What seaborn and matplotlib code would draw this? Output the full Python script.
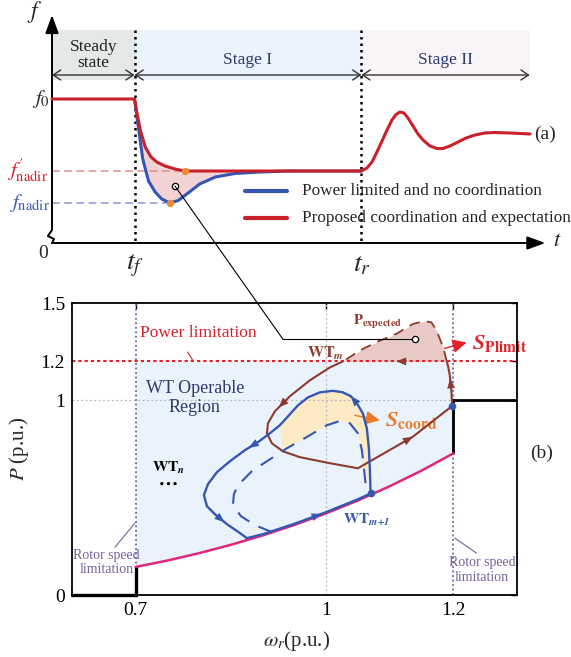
import numpy as np
import matplotlib
matplotlib.use("Agg")
import matplotlib.pyplot as plt
from matplotlib.patches import ConnectionPatch
import seaborn as sns

# ---------------- (a) frequency response after a disturbance ----------------
t_f, t_r, t_end = 1.0, 3.75, 5.79
f0 = 50.0
t_nadir_base, f_nadir_base = 1.43, 48.96
t_nadir_prop, f_nadir_prop = 1.61, 49.28

t_prop = [0.0, 1.0, 1.03, 1.07, 1.13, 1.20, 1.27, 1.37, 1.49, 1.61, 1.79, 2.50, 3.75,
          3.818, 3.879, 3.939, 4.0, 4.061, 4.121, 4.170, 4.218, 4.267, 4.315, 4.376, 4.436,
          4.497, 4.582, 4.667, 4.739, 4.824, 4.921, 5.018, 5.127, 5.248, 5.370, 5.552, 5.794]
f_prop = [50.0, 50.0, 49.86, 49.69, 49.52, 49.42, 49.37, 49.33, 49.30, 49.28, 49.28, 49.28, 49.28,
          49.31, 49.37, 49.47, 49.58, 49.69, 49.79, 49.845, 49.87, 49.86, 49.81, 49.73, 49.65,
          49.59, 49.53, 49.505, 49.505, 49.53, 49.57, 49.61, 49.64, 49.66, 49.665, 49.66, 49.65]

t_base = [1.0, 1.04, 1.10, 1.17, 1.25, 1.33, 1.43, 1.53, 1.65, 1.79, 1.98, 2.22, 2.52, 2.88, 3.75]
f_base = [50.0, 49.76, 49.40, 49.18, 49.07, 49.00, 48.96, 48.985, 49.06, 49.15, 49.22, 49.255,
          49.27, 49.28, 49.28]

stage_names = ["Steady\nstate", "Stage I", "Stage II"]
stage_edges = [0.0, t_f, t_r, t_end]
legend_labels = ["Power limited and no coordination", "Proposed coordination and expectation"]

# ---------------- (b) WT operating trajectories in the P-omega plane ----------------
mppt_w = [0.70, 0.75, 0.80, 0.85, 0.90, 0.95, 1.00, 1.05, 1.10, 1.15, 1.20]
mppt_p = [0.144, 0.177, 0.215, 0.258, 0.306, 0.360, 0.420, 0.486, 0.559, 0.639, 0.728]

wt_next_w = [1.0697, 1.0686, 1.0670, 1.0638, 1.0575, 1.0481, 1.0387, 1.0261, 1.0104, 0.9899,
             0.9711, 0.9553, 0.9412, 0.9270, 0.9113, 0.8925, 0.8720, 0.8484, 0.8280, 0.8138,
             0.8075, 0.8123, 0.8248, 0.8437, 0.8642, 0.8752, 0.90, 0.95, 1.00, 1.05, 1.0697]
wt_next_p = [0.5215, 0.641, 0.754, 0.856, 0.933, 0.985, 1.021, 1.041, 1.049, 1.041,
             1.015, 0.974, 0.923, 0.872, 0.831, 0.785, 0.744, 0.687, 0.631, 0.569,
             0.513, 0.456, 0.415, 0.364, 0.318, 0.292, 0.312, 0.366, 0.426, 0.492, 0.5215]

wt_next_nc_w = [0.9145, 0.8877, 0.8657, 0.8531, 0.8547, 0.8610, 0.8830, 0.9066, 0.9381, 0.9695,
                1.0009, 1.0214, 1.0371, 1.0497, 1.0560, 1.0591, 1.0623]
wt_next_nc_p = [0.323, 0.359, 0.405, 0.462, 0.518, 0.564, 0.636, 0.687, 0.754, 0.812,
                0.872, 0.894, 0.882, 0.831, 0.744, 0.656, 0.554]

wt_m_w = [1.198, 1.1967, 1.1943, 1.192, 1.1896, 1.11, 1.0261, 1.0057, 0.9742, 0.9428, 0.9192,
          0.9082, 0.9066, 0.9145, 0.9318, 0.9585, 1.0057, 1.0497, 1.1362, 1.198]
wt_m_p = [0.971, 1.051, 1.128, 1.169, 1.2, 1.2, 1.2, 1.169, 1.103, 1.021, 0.944,
          0.882, 0.831, 0.779, 0.738, 0.708, 0.677, 0.651, 0.813, 0.971]

p_exp_w = [1.1896, 1.1838, 1.1734, 1.1656, 1.1550, 1.1366, 1.1105, 1.0791, 1.0528, 1.0266]
p_exp_p = [1.2, 1.273, 1.359, 1.400, 1.407, 1.393, 1.342, 1.299, 1.256, 1.2]

p_limit = 1.2
w_min, w_max = 0.7, 1.2
x_ticks = [0.7, 1.0, 1.2]
x_tick_labels = ["0.7", "1", "1.2"]
y_ticks = [0, 1.0, 1.2, 1.5]
y_tick_labels = ["0", "1", "1.2", "1.5"]

RED = "#c9212b"
BLUE = "#3557b0"
BROWN = "#8c3b2b"
MAGENTA = "#e2257d"
ORANGE = "#f08c35"
NAVY = "#2c3a6e"
PURPLE = "#76609c"

sns.set_theme(style="white")
plt.rcParams["font.family"] = ["Liberation Serif", "DejaVu Serif"]
plt.rcParams["mathtext.fontset"] = "stix"

W, H = 571, 657
fig = plt.figure(figsize=(W / 100, H / 100), dpi=100)

# top panel spans the full width; 82.5 px per time unit, 100 px per Hz
ax_a = fig.add_axes([0, 1 - 270 / H, 1, 270 / H])
ax_a.set_xlim(-52 / 82.5, (W - 52) / 82.5)
ax_a.set_ylim(50 - (270 - 99) / 100, 50 + 99 / 100)
ax_a.axis("off")

band_lo, band_hi, band_y = 50.19, 50.69, 50.24
for (a, b), c in zip(zip(stage_edges[:-1], stage_edges[1:]), ["#e5e8e8", "#eaf3fc", "#f8f4f8"]):
    ax_a.fill_between([a, b], band_lo, band_hi, color=c, lw=0, zorder=0)
for (a, b), name in zip(zip(stage_edges[:-1], stage_edges[1:]), stage_names):
    ax_a.annotate("", xy=(b, band_y), xytext=(a, band_y),
                  arrowprops=dict(arrowstyle="<->,head_length=0.45,head_width=0.3",
                                  color="#333333", lw=1.0, shrinkA=0, shrinkB=0,
                                  mutation_scale=12))
    ty = 50.44 if "\n" in name else 50.39
    ax_a.text((a + b) / 2, ty, name, ha="center", va="center",
              color=NAVY if "\n" not in name else "#222222",
              fontsize=12.5, linespacing=0.95)

t_axis_y = 48.56
for tv in [t_f, t_r]:
    ax_a.plot([tv, tv], [band_hi, t_axis_y], color="black", lw=1.8, ls=(0, (1, 1.6)), zorder=3)

# axes of panel (a)
ax_a.plot([0, 0, -0.05, 0.024, 0], [50.7, 48.69, 48.63, 48.60, t_axis_y], color="black", lw=1.4, zorder=4)
ax_a.annotate("", xy=(0, 50.84), xytext=(0, 50.6),
              arrowprops=dict(arrowstyle="-|>,head_length=0.55,head_width=0.2", color="black",
                              lw=1.4, shrinkA=0, shrinkB=0, mutation_scale=20))
ax_a.annotate("", xy=(5.98, t_axis_y), xytext=(0, t_axis_y),
              arrowprops=dict(arrowstyle="-|>,head_length=0.55,head_width=0.2", color="black",
                              lw=1.4, shrinkA=0, shrinkB=0, mutation_scale=20))

# shaded gain between the two responses
seg = slice(1, 13)
ax_a.fill(list(t_prop[seg]) + t_base[::-1], list(f_prop[seg]) + f_base[::-1],
          color="#f2d3d3", lw=0, zorder=1)

ax_a.plot([0, t_nadir_prop], [f_nadir_prop] * 2, color="#e08d8d", lw=1.1, ls=(0, (5, 3)), zorder=2)
ax_a.plot([0, t_nadir_base], [f_nadir_base] * 2, color="#8796cf", lw=1.1, ls=(0, (5, 3)), zorder=2)

sns.lineplot(x=t_base, y=f_base, ax=ax_a, color=BLUE, lw=2.2, sort=False, estimator=None, zorder=3)
sns.lineplot(x=t_prop, y=f_prop, ax=ax_a, color=RED, lw=2.2, sort=False, estimator=None, zorder=4)
ax_a.scatter([t_nadir_base, t_nadir_prop], [f_nadir_base, f_nadir_prop], s=28, color=ORANGE,
             zorder=5, lw=0)

ax_a.text(-0.03, f0, "$f_0$", ha="right", va="center", fontsize=15)
ax_a.text(-0.05, f_nadir_prop, "$f^{\\prime}_{\\mathrm{nadir}}$", ha="right", va="center",
          fontsize=15, color=RED)
ax_a.text(-0.03, f_nadir_base, "$f_{\\mathrm{nadir}}$", ha="right", va="center", fontsize=15, color=BLUE)
ax_a.text(-0.21, 50.87, "$f$", ha="center", va="center", fontsize=17)
ax_a.text(-0.11, 48.45, "0", ha="center", va="center", fontsize=14)
ax_a.text(t_f, 48.33, "$t_f$", ha="center", va="center", fontsize=20)
ax_a.text(t_r, 48.34, "$t_r$", ha="center", va="center", fontsize=20)
ax_a.text(6.12, 48.57, "$t$", ha="center", va="center", fontsize=16)
ax_a.text(5.98, 49.65, "(a)", ha="center", va="center", fontsize=14)

for fy, c, lab in zip([49.08, 48.81], [BLUE, RED], legend_labels):
    ax_a.plot([2.34, 2.85], [fy, fy], color=c, lw=3.0, solid_capstyle="round")
    ax_a.text(3.03, fy, lab, ha="left", va="center", fontsize=12.4)

ax_a.plot([1.49], [49.13], marker="o", ms=4.5, mfc="white", mec="black", mew=0.9, zorder=6)

# ---------------- panel (b) ----------------
ax_b = fig.add_axes([72 / W, 62 / H, 445 / W, 292 / H])
ax_b.set_xlim(0.6, 1.3)
ax_b.set_ylim(0, 1.5)
ax_b.set_facecolor("white")

ax_b.fill_between(mppt_w, mppt_p, p_limit, color="#eaf3fc", lw=0, zorder=0)
ax_b.fill_between(p_exp_w, p_exp_p, p_limit, color="#e9c9c5", lw=0, zorder=1)

# coordination gain between the trajectories with and without coordination
up_w = wt_next_w[1:14][::-1]
up_p = wt_next_p[1:14][::-1]
ax_b.fill([0.9318] + up_w + wt_next_nc_w[8:][::-1],
          [0.740] + up_p + wt_next_nc_p[8:][::-1],
          color="#fdebc5", lw=0, zorder=1)

ax_b.plot([0.6, w_max], [1.0, 1.0], color="#b8b8b8", lw=0.9, ls=(0, (1.5, 2)), zorder=1)
ax_b.plot([1.0, 1.0], [0, 1.5], color="#b8b8b8", lw=0.9, ls=(0, (1.5, 2)), zorder=1)
for wv in [w_min, w_max]:
    ax_b.plot([wv, wv], [0, 1.5], color=PURPLE, lw=1.3, ls=(0, (1, 1.5)), zorder=2)

# power limit envelope
ax_b.plot([0.6, w_min, w_min], [0, 0, mppt_p[0]], color="black", lw=2.4, zorder=3,
          solid_joinstyle="miter", clip_on=False)
ax_b.plot([w_max, w_max, 1.3], [mppt_p[-1], 1.0, 1.0], color="black", lw=2.0, zorder=3,
          solid_joinstyle="miter")

sns.lineplot(x=mppt_w, y=mppt_p, ax=ax_b, color=MAGENTA, lw=1.8, sort=False, estimator=None, zorder=3)

# WT_m trajectory
ax_b.plot(wt_m_w[:5], wt_m_p[:5], color=BROWN, lw=1.5, zorder=4)
ax_b.plot(wt_m_w[6:], wt_m_p[6:], color=BROWN, lw=1.5, zorder=4)
ax_b.plot(p_exp_w, p_exp_p, color=BROWN, lw=1.3, ls=(0, (6, 4)), zorder=4)
ax_b.plot([0.6, 1.3], [p_limit, p_limit], color="#e3232b", lw=1.5, ls=(0, (1.6, 1.4)), zorder=4)

# WT_{m+1} trajectories
sns.lineplot(x=wt_next_w, y=wt_next_p, ax=ax_b, color=BLUE, lw=1.7, sort=False, estimator=None, zorder=5)
ax_b.plot(wt_next_nc_w, wt_next_nc_p, color=BLUE, lw=1.5, ls=(0, (7, 5)), zorder=5)

ax_b.scatter([wt_m_w[0], wt_next_w[0]], [wt_m_p[0], wt_next_p[0]], s=30, color=BLUE, zorder=6, lw=0)


def path_arrow(ax, xs, ys, i, color, frac=0.6, scale=13):
    x0, y0, x1, y1 = xs[i], ys[i], xs[i + 1], ys[i + 1]
    tip = (x0 + frac * (x1 - x0), y0 + frac * (y1 - y0))
    ax.annotate("", xy=tip, xytext=(x0, y0),
                arrowprops=dict(arrowstyle="-|>,head_length=0.55,head_width=0.22", color=color,
                                lw=0, shrinkA=0, shrinkB=0, mutation_scale=scale), zorder=7)


for i, fr in [(5, 1.0), (15, 0.7), (22, 0.8), (27, 0.85)]:
    path_arrow(ax_b, wt_next_w, wt_next_p, i, BLUE, fr)
for i, fr in [(1, 0.8), (4, 1.0), (9, 0.75), (17, 1.0)]:
    path_arrow(ax_b, wt_m_w, wt_m_p, i, BROWN, fr)

# ticks and frame
ax_b.set_xticks(x_ticks)
ax_b.set_xticklabels(x_tick_labels)
ax_b.set_yticks(y_ticks)
ax_b.set_yticklabels(y_tick_labels)
ax_b.tick_params(direction="in", length=4, width=1.0, top=True, right=True, labelsize=14,
                 pad=5, colors="black")
for sp in ax_b.spines.values():
    sp.set_color("black")
    sp.set_linewidth(1.3)
    sp.set_zorder(8)

ax_b.set_ylabel("$P$ (p.u.)", fontsize=15)
ax_b.yaxis.set_label_coords(-0.093, 0.5)
ax_b.set_xlabel("$\\omega_r$(p.u.)", fontsize=15)
ax_b.xaxis.set_label_coords(0.505, -0.115)

# annotations
ax_b.text(0.798, 1.344, "Power limitation", ha="center", va="center", color="#d8202a", fontsize=12.5)
ax_b.plot([0.782, 0.790], [1.248, 1.205], color="#d8202a", lw=0.8)
ax_b.text(0.793, 1.01, "WT Operable\nRegion", ha="center", va="center", color=NAVY, fontsize=13,
          linespacing=1.15)
ax_b.text(0.999, 1.241, "$\\mathbf{WT}_{\\mathbfit{m}}$", ha="center", va="center", color=BROWN,
          fontsize=11.5)
ax_b.text(1.081, 1.40, "$\\mathbf{P}_{\\mathbf{expected}}$", ha="center", va="center", color=BROWN,
          fontsize=10.5)
ax_b.text(0.751, 0.651, "$\\mathbf{WT}_{\\mathbfit{n}}$", ha="center", va="center", color="black",
          fontsize=11)
ax_b.text(0.751, 0.572, "$\\mathbf{\\cdots}$", ha="center", va="center", color="black", fontsize=14)
ax_b.text(1.064, 0.383, "$\\mathbf{WT}_{\\mathbfit{m\\!+\\!1}}$", ha="center", va="center", color=BLUE,
          fontsize=11)
ax_b.annotate("", xy=(1.2206, 1.297), xytext=(1.186, 1.267),
              arrowprops=dict(arrowstyle="-|>,head_length=0.6,head_width=0.3", color="#e3232b",
                              lw=1.0, shrinkA=0, shrinkB=0, mutation_scale=14))
ax_b.text(1.229, 1.292, "$\\mathbfit{S}_{\\mathbf{Plimit}}$", ha="left", va="center", color="#e3232b",
          fontsize=16, clip_on=False)
ax_b.annotate("", xy=(1.084, 0.897), xytext=(1.045, 0.923),
              arrowprops=dict(arrowstyle="-|>,head_length=0.6,head_width=0.3", color="#ec7a2a",
                              lw=1.0, shrinkA=0, shrinkB=0, mutation_scale=14))
ax_b.text(1.092, 0.897, "$\\mathbfit{S}_{\\mathbf{coord}}$", ha="left", va="center", color="#ec7a2a",
          fontsize=16)

ax_b.text(0.6546, 0.167, "Rotor speed\nlimitation", ha="center", va="center", color=PURPLE,
          fontsize=10, linespacing=1.15, zorder=9)
ax_b.plot([0.6676, 0.699], [0.246, 0.369], color=PURPLE, lw=0.8)
ax_b.text(1.2447, 0.128, "Rotor speed\nlimitation", ha="center", va="center", color=PURPLE,
          fontsize=10, linespacing=1.15)
ax_b.plot([1.2022, 1.2363], [0.292, 0.215], color=PURPLE, lw=0.8)
ax_b.text(1.3385, 0.728, "(b)", ha="center", va="center", fontsize=14, clip_on=False)

# leader from the shaded area in (a) to the expected-power region in (b)
con = ConnectionPatch(xyA=(1.49, 49.13), coordsA=ax_a.transData,
                      xyB=(0.932, 1.313), coordsB=ax_b.transData, color="black", lw=0.8)
fig.add_artist(con)
ax_b.plot([0.932, 1.139], [1.313, 1.313], color="black", lw=0.8, zorder=6)
ax_b.plot([1.139], [1.313], marker="o", ms=4.5, mfc="white", mec="black", mew=0.9, zorder=7)

fig.savefig("out.png", dpi=100)
